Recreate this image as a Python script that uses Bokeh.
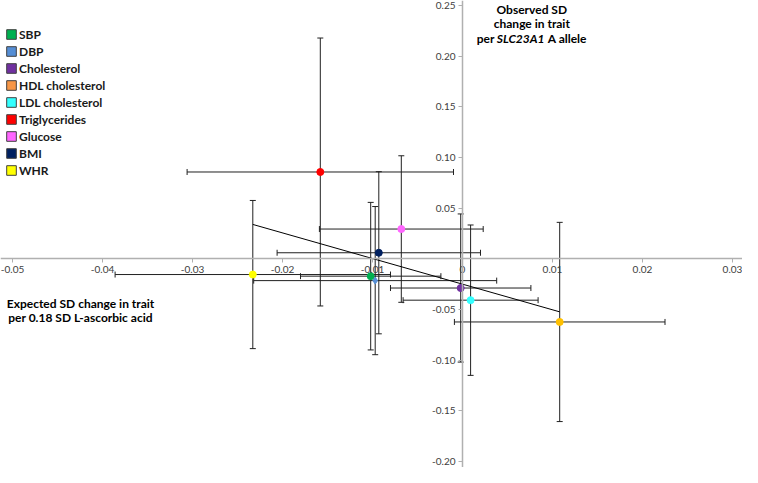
from bokeh.plotting import figure
from bokeh.models import (ColumnDataSource, Whisker, TeeHead, Range1d, FixedTicker,
                          Legend, LegendItem, Label)
from bokeh.embed import file_html
from bokeh.resources import INLINE

# ---- data ----
traits = ["SBP", "DBP", "Cholesterol", "HDL cholesterol", "LDL cholesterol",
          "Triglycerides", "Glucose", "BMI", "WHR"]
expected = [-0.0102, -0.0097, -0.0002, 0.0108, 0.0009, -0.0158, -0.0068, -0.0093, -0.0233]
expected_err = [0.0078, 0.0135, 0.0078, 0.0117, 0.0075, 0.0148, 0.0091, 0.0113, 0.0153]
observed = [-0.0171, -0.0215, -0.0288, -0.0623, -0.0408, 0.0857, 0.0294, 0.0060, -0.0155]
observed_err = [0.0728, 0.0731, 0.0731, 0.0983, 0.0742, 0.1322, 0.0723, 0.0800, 0.0731]

fit_slope = -2.53
fit_intercept = -0.025

x_ticks = [-0.05, -0.04, -0.03, -0.02, -0.01, 0.0, 0.01, 0.02, 0.03]
x_tick_labels = ["-0.05", "-0.04", "-0.03", "-0.02", "-0.01", "0", "0.01", "0.02", "0.03"]
y_ticks = [-0.20, -0.15, -0.10, -0.05, 0.0, 0.05, 0.10, 0.15, 0.20, 0.25]
y_tick_labels = ["-0.20", "-0.15", "-0.10", "-0.05", "", "0.05", "0.10", "0.15", "0.20", "0.25"]

# ---- styles ----
marker_colors = ["#00B050", "#558ED5", "#7030A0", "#FFC000", "#33FFFF",
                 "#FF0000", "#FF66FF", "#002060", "#FFFF00"]
legend_colors = ["#00B050", "#558ED5", "#7030A0", "#F79646", "#33FFFF",
                 "#FF0000", "#FF66FF", "#002060", "#FFFF00"]
marker_shapes = ["circle", "diamond", "circle", "circle", "circle",
                 "circle", "circle", "circle", "circle"]
FONT = "Lato"

p = figure(width=742, height=467,
           x_range=Range1d(-0.051333, 0.031111),
           y_range=Range1d(-0.205921, 0.254934),
           output_backend="svg", toolbar_location=None,
           min_border=0, outline_line_color=None)
p.grid.visible = False

for ax, ticks, labels in ((p.xaxis[0], x_ticks, x_tick_labels),
                          (p.yaxis[0], y_ticks, y_tick_labels)):
    ax.fixed_location = 0
    ax.ticker = FixedTicker(ticks=ticks)
    ax.major_label_overrides = {float(t): l for t, l in zip(ticks, labels)}
    ax.axis_line_color = "#B0B0B0"
    ax.axis_line_width = 1.5
    ax.major_tick_line_color = "#B0B0B0"
    ax.major_tick_in = 0
    ax.major_tick_out = 4
    ax.minor_tick_line_color = None
    ax.major_label_text_font = FONT
    ax.major_label_text_font_size = "10px"
    ax.major_label_text_color = "#404040"
    ax.major_label_standoff = 3

src = ColumnDataSource(dict(
    x=expected, y=observed,
    xl=[v - e for v, e in zip(expected, expected_err)],
    xu=[v + e for v, e in zip(expected, expected_err)],
    yl=[v - e for v, e in zip(observed, observed_err)],
    yu=[v + e for v, e in zip(observed, observed_err)],
    color=marker_colors, legend_color=legend_colors, marker=marker_shapes,
))

def head():
    return TeeHead(size=6, line_color="#202020", line_width=1)

p.add_layout(Whisker(source=src, base="y", lower="xl", upper="xu", dimension="width",
                     line_color="#202020", line_width=1,
                     lower_head=head(), upper_head=head()))
p.add_layout(Whisker(source=src, base="x", lower="yl", upper="yu", dimension="height",
                     line_color="#202020", line_width=1,
                     lower_head=head(), upper_head=head()))

# regression line across the range of the expected values
fx = [min(expected), max(expected)]
fy = [fit_intercept + fit_slope * v for v in fx]
p.line(fx, fy, line_color="black", line_width=1)

# zero-size quads at the points: only used to draw the square legend swatches
swatch = p.quad(left="x", right="x", top="y", bottom="y", source=src,
                fill_color="legend_color", line_color="#404040", line_width=1)

p.scatter("x", "y", source=src, size=7, marker="marker",
          fill_color="color", line_color="color")

items = [LegendItem(label=t, renderers=[swatch], index=i) for i, t in enumerate(traits)]

legend = Legend(items=items, location=(5, 289),
                glyph_width=12, glyph_height=12, label_height=16, spacing=1,
                padding=2, margin=0, label_standoff=2,
                label_text_font=FONT, label_text_font_style="bold",
                label_text_font_size="12px", label_text_color="#1a1a1a",
                background_fill_alpha=0, border_line_color=None)
p.add_layout(legend)

def lab(x, y, text, style="bold", xoff=0, align="center"):
    p.add_layout(Label(x=x, y=y, text=text, x_offset=xoff,
                       text_align=align, text_baseline="middle",
                       text_font=FONT, text_font_style=style,
                       text_font_size="12px", text_color="black"))

lab(0.0077, 0.2464, "Observed SD")
lab(0.0077, 0.2318, "change in trait")
lab(0.0077, 0.2173, "per", align="left", xoff=-55)
lab(0.0077, 0.2173, "SLC23A1", style="bold italic", align="left", xoff=-35)
lab(0.0077, 0.2173, "A allele", align="left", xoff=16)

lab(-0.04244, -0.0441, "Expected SD change in trait")
lab(-0.04244, -0.0579, "per 0.18 SD L-ascorbic acid")

open("out.html", "w").write(file_html(p, INLINE))
